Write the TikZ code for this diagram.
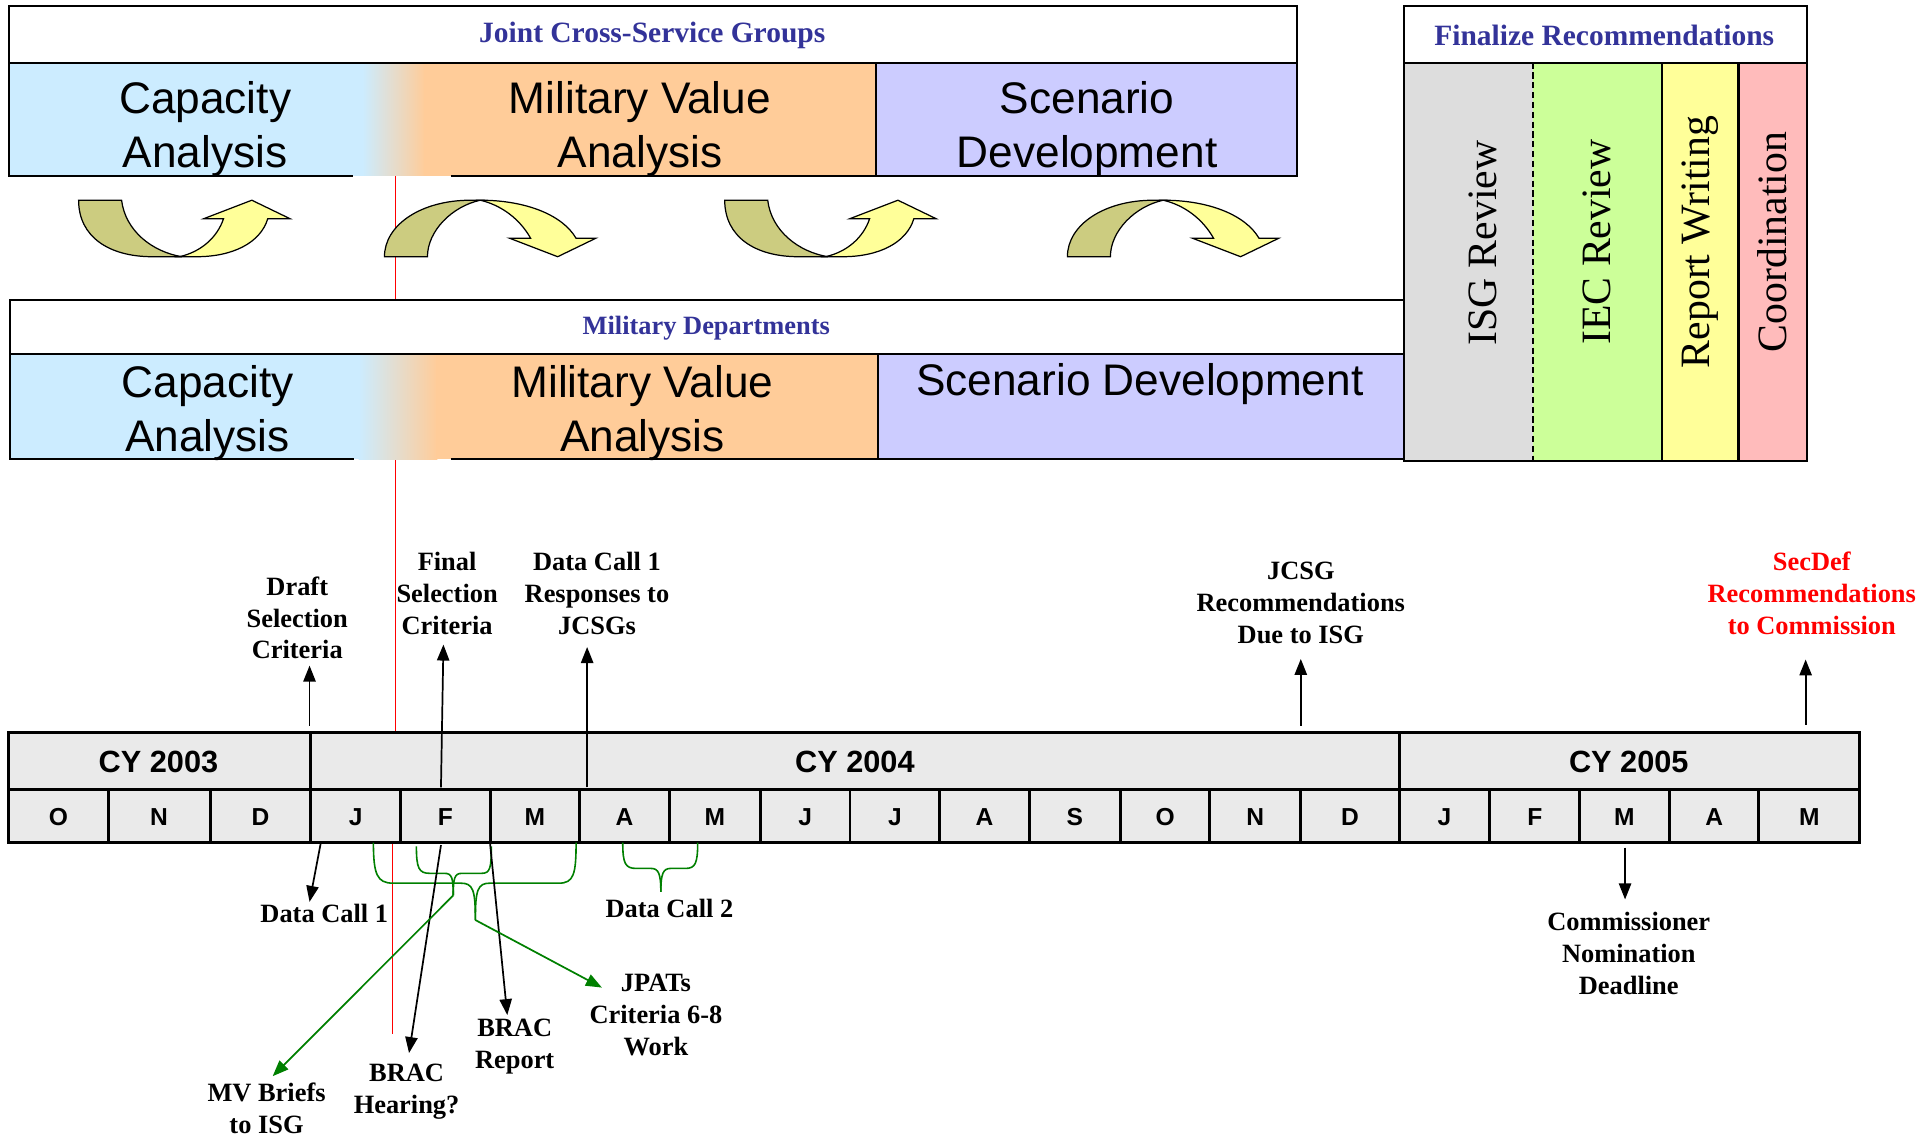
\documentclass[tikz,border=0pt]{standalone}
\usepackage{fontspec}
\setmainfont{Liberation Serif}
\setsansfont{Liberation Sans}
\usetikzlibrary{arrows.meta}
\definecolor{hdrblue}{HTML}{333399}
\definecolor{capblue}{HTML}{CCECFF}
\definecolor{mvorange}{HTML}{FFCC99}
\definecolor{scnlav}{HTML}{CCCCFF}
\definecolor{isggray}{HTML}{DDDDDD}
\definecolor{iecgreen}{HTML}{CCFF99}
\definecolor{rptyellow}{HTML}{FFFF99}
\definecolor{coordpink}{HTML}{FFBBBB}
\definecolor{arrowdark}{HTML}{CCCC80}
\definecolor{tlgray}{HTML}{EAEAEA}
\definecolor{brgreen}{HTML}{008000}
\tikzset{
  hdr/.style={font=\fontsize{24}{28}\bfseries\selectfont, text=hdrblue},
  bandtext/.style={font=\sffamily\fontsize{36}{44}\selectfont, align=center},
  vtext/.style={rotate=90, font=\fontsize{34}{40}\selectfont},
  note/.style={font=\fontsize{21.5}{26}\bfseries\selectfont, align=center, inner sep=1pt},
  yr/.style={font=\sffamily\bfseries\fontsize{25}{30}\selectfont},
  mon/.style={font=\sffamily\bfseries\fontsize{20}{24}\selectfont},
  boxline/.style={draw=black, line width=1.6pt},
  tlbox/.style={draw=black, fill=tlgray, line width=2.4pt},
  blk/.style={-{Triangle[length=13pt,width=10pt]}, draw=black, line width=1.4pt},
  grn/.style={-{Triangle[length=13pt,width=10pt]}, draw=brgreen, line width=1.4pt},
  bracepath/.style={draw=brgreen, line width=1.3pt},
  uturn/.pic={
    \draw[fill=arrowdark, line width=1pt] (0,0) -- (35,0) .. controls (38,25) and (60,42) .. (84,46) -- (60,46) .. controls (25,46) and (0,30) .. (0,0) -- cycle;
    \draw[fill=rptyellow, line width=1pt] (82,46) .. controls (100,42) and (113,30) .. (118,15) -- (102,15) -- (141,0) -- (172,15) -- (154,15) .. controls (148,35) and (125,46) .. (96,46) -- cycle;
  },
  arch/.pic={
    \draw[fill=arrowdark, line width=1pt] (0,46) .. controls (0,20) and (30,0) .. (70,0) -- (78,0) .. controls (55,5) and (35,25) .. (35,46) -- cycle;
    \draw[fill=rptyellow, line width=1pt] (78,0) .. controls (115,0) and (145,12) .. (156,31) -- (172,31) -- (141,46) -- (102,31) -- (119,31) .. controls (110,15) and (95,4) .. (78,0) -- cycle;
  }
}
\begin{document}
\begin{tikzpicture}[x=1pt,y=-1pt]
\useasboundingbox (0,0) rectangle (1568,925);
\fill[white] (0,0) rectangle (1568,925);

% red line
\draw[red, line width=1.2pt] (322,143) -- (322,596);
\draw[red, line width=1.2pt] (319.5,686) -- (319.5,842);

% ---------- JCSG box ----------
\fill[capblue] (7,51) rectangle (296,143);
\shade[left color=capblue, right color=mvorange] (295,51) rectangle (346,143);
\fill[mvorange] (345,51) rectangle (713,143);
\fill[scnlav] (713,51) rectangle (1056,143);
\draw[boxline, fill=white] (7,5) rectangle (1056,51);
\draw[boxline] (7,51) -- (7,143) -- (287,143);
\draw[boxline] (367,143) -- (1056,143) -- (1056,51);
\draw[boxline] (713,51) -- (713,143);
\node[hdr] (jcsgh) at (531,29) {Joint Cross-Service Groups};
\node[bandtext] (jcap) at (167,105) {Capacity\\Analysis};
\node[bandtext] (jmv) at (521,105) {Military Value\\Analysis};
\node[bandtext] (jscn) at (885,105) {Scenario\\Development};

% curved arrows
\pic at (64,163) {uturn};
\pic at (313,163) {arch};
\pic at (590,163) {uturn};
\pic at (869,163) {arch};

% ---------- MD box ----------
\fill[capblue] (8,288) rectangle (293,374);
\shade[left color=capblue, right color=mvorange] (292,288) rectangle (356,374);
\fill[mvorange] (355,288) rectangle (715,374);
\fill[scnlav] (715,288) rectangle (1143,374);
\draw[boxline, fill=white] (8,244) rectangle (1143,288);
\draw[boxline] (8,288) -- (8,374) -- (288,374);
\draw[boxline] (367,374) -- (1143,374);
\draw[boxline] (715,288) -- (715,374);
\node[hdr, font=\fontsize{21.5}{25}\bfseries\selectfont] (mdh) at (575,267) {Military Departments};
\node[bandtext] (mcap) at (169,336) {Capacity\\Analysis};
\node[bandtext] (mmv) at (523,336) {Military Value\\Analysis};
\node[bandtext] (mscn) at (928,313) {Scenario Development};

% ---------- Finalize box ----------
\fill[isggray] (1143,51) rectangle (1248,375);
\fill[iecgreen] (1248,51) rectangle (1353,375);
\fill[rptyellow] (1353,51) rectangle (1415,375);
\fill[coordpink] (1415,51) rectangle (1471,375);
\draw[boxline, fill=white] (1143,5) rectangle (1471,51);
\draw[boxline] (1143,51) rectangle (1471,375);
\draw[black, line width=1.2pt, dash pattern=on 5pt off 3pt] (1248,51) -- (1248,375);
\draw[boxline] (1353,51) -- (1353,375);
\draw[black, line width=2.4pt] (1415,51) -- (1415,375);
\node[hdr] (finh) at (1306,29) {Finalize Recommendations};
\node[vtext] (isg) at (1207,198) {ISG Review};
\node[vtext] (iec) at (1300,197) {IEC Review};
\node[vtext] (rpt) at (1384,197) {Report Writing};
\node[vtext] (coo) at (1443,197) {Coordination};

% ---------- Timeline ----------
\draw[tlbox] (7,596) rectangle (253,643);
\draw[tlbox] (253,596) rectangle (1139,643);
\draw[tlbox] (1139,596) rectangle (1514,643);
\node[yr] (cy3) at (129,620) {CY 2003};
\node[yr] (cy4) at (696,620) {CY 2004};
\node[yr] (cy5) at (1326,620) {CY 2005};
\foreach \l/\r/\t [count=\i] in {7/88/O, 88/171/N, 171/253/D, 253/326/J, 326/399/F, 399/472/M, 472/545/A, 545/619/M, 619/692/J, 692/765/J, 765/838/A, 838/912/S, 912/985/O, 985/1059/N, 1059/1139/D, 1139/1213/J, 1213/1286/F, 1286/1359/M, 1359/1432/A, 1432/1514/M}{
  \draw[tlbox] (\l,643) rectangle (\r,686);
  \node[mon] (m\i) at ({(\l+\r)/2},665) {\t};
}

% ---------- notes above ----------
\node[note] (draft) at (242,503) {Draft\\Selection\\Criteria};
\node[note] (final) at (364,483) {Final\\Selection\\Criteria};
\node[note] (dcr) at (486,483) {Data Call 1\\Responses to\\JCSGs};
\node[note] (jcsg) at (1059,491) {JCSG\\Recommendations\\Due to ISG};
\node[note, text=red] (secdef) at (1475,483) {SecDef\\Recommendations\\to Commission};

\coordinate (draftfoot) at (252,591);
\coordinate (finalfoot) at (359,641);
\coordinate (dcrfoot) at (478,641);
\coordinate (jcsgfoot) at (1059,591);
\coordinate (secfoot) at (1470,590);
\draw[blk] (draftfoot) -- ([yshift=-4pt]draftfoot |- draft.south);
\draw[blk] (finalfoot) -- ([xshift=-3pt,yshift=-7pt]final.south);
\draw[blk] (dcrfoot) -- ([yshift=-9pt]dcrfoot |- dcr.south);
\draw[blk] (jcsgfoot) -- ([yshift=-11pt]jcsg.south);
\draw[blk] (secfoot) -- ([yshift=-19pt]secfoot |- secdef.south);

% ---------- notes below ----------
\node[note] (dc1) at (264,744) {Data Call 1};
\node[note] (dc2) at (545,740) {Data Call 2};
\node[note] (mv) at (217,902) {MV Briefs\\to ISG};
\node[note] (hear) at (331,889) {BRAC\\Hearing?};
\node[note] (rep) at (419,852) {BRAC\\Report};
\node[note] (jpats) at (534,826) {JPATs\\Criteria 6-8\\Work};
\node[note] (com) at (1326,776) {Commissioner\\Nomination\\Deadline};

% braces
\draw[bracepath] (304,686) .. controls (304,712) and (307,719) .. (320,719) -- (375,719) .. controls (385,719) and (387,724) .. (387,749);
\draw[bracepath] (387,749) .. controls (387,724) and (389,719) .. (399,719) -- (455,719) .. controls (467,719) and (469,712) .. (469,686);
\draw[bracepath] (339,689) .. controls (339,707) and (341,711) .. (350,711) -- (362,711) .. controls (368,711) and (369,715) .. (369,729);
\draw[bracepath] (369,729) .. controls (369,715) and (370,711) .. (376,711) -- (392,711) .. controls (399,711) and (400,707) .. (400,689);
\draw[bracepath] (507,686) .. controls (507,703) and (509,707) .. (518,707) -- (530,707) .. controls (536,707) and (538,711) .. (538,726);
\draw[bracepath] (538,726) .. controls (538,711) and (540,707) .. (546,707) -- (558,707) .. controls (566,707) and (568,703) .. (568,686);
\coordinate (b1tip) at (387,749);
\coordinate (b2tip) at (369,729);
\coordinate (jpatstip) at (490,804);

\coordinate (dc1foot) at (261,687);
\coordinate (hearfoot) at (359,688);
\coordinate (repfoot) at (399,687);
\coordinate (comfoot) at (1323,690);
\draw[blk] (dc1foot) -- ([xshift=-12pt,yshift=1pt]dc1.north);
\draw[blk] (hearfoot) -- ([xshift=2pt,yshift=8pt]hear.north);
\draw[blk] (repfoot) -- ([xshift=-6pt,yshift=2pt]rep.north);
\draw[blk] (comfoot) -- ([xshift=-3pt,yshift=9pt]com.north);
\draw[grn] (b2tip) -- ([xshift=5pt,yshift=4pt]mv.north);
\draw[grn] (b1tip) -- (jpatstip);
\end{tikzpicture}
\end{document}
